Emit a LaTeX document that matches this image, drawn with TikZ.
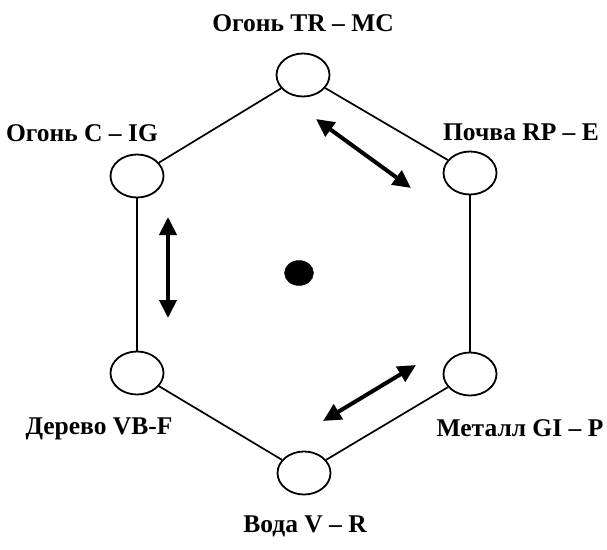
\documentclass[tikz,border=0pt]{standalone}
\usepackage{fontspec}
\setmainfont{Liberation Serif}
\usetikzlibrary{shapes.geometric,arrows.meta}
\tikzset{
  elem/.style={draw, ellipse, line width=1.8pt, minimum width=53pt, minimum height=43pt, inner sep=0pt},
  edge/.style={line width=1.7pt},
  lbl/.style={font=\bfseries\fontsize{25.5}{30}\selectfont, inner sep=0pt},
  dbl/.style={line width=4pt, {Triangle[length=18pt,width=17pt]}-{Triangle[length=18pt,width=17pt]}}
}
\begin{document}
\begin{tikzpicture}[x=1pt,y=-1pt]
\useasboundingbox (0,0) rectangle (607,549);
% elements
\node[elem] (top) at (303,75) {};
\node[elem] (lt) at (137,176) {};
\node[elem] (rt) at (470,173) {};
\node[elem] (lb) at (137,373) {};
\node[elem] (rb) at (470,374) {};
\node[elem] (bot) at (304,473) {};
% hexagon edges
\draw[edge] (top) -- (rt);
\draw[edge] (top) -- (lt);
\draw[edge] (lt.south) -- (lb.north);
\draw[edge] (rt.south) -- (rb.north);
\draw[edge] (lb) -- (bot);
\draw[edge] (rb) -- (bot);
% centre
\node[draw, fill=black, ellipse, minimum width=29pt, minimum height=25pt, inner sep=0pt] (c) at (299,273) {};
% arrows
\coordinate (a1s) at (316,119);
\coordinate (a1e) at (411,188);
\coordinate (a2s) at (168,217);
\coordinate (a2e) at (168,318);
\coordinate (a3s) at (323,421);
\coordinate (a3e) at (416,365);
\draw[dbl] (a1s) -- (a1e);
\draw[dbl] (a2s) -- (a2e);
\draw[dbl] (a3s) -- (a3e);
% labels
\node[lbl] (ltop) at (303,23) {Огонь TR – MC};
\node[lbl] (llt) at (82,133) {Огонь C – IG};
\node[lbl] (lrt) at (521,132) {Почва RP – E};
\node[lbl] (llb) at (99,429) {Дерево VB-F};
\node[lbl] (lrb) at (520,428) {Металл GI – P};
\node[lbl] (lbot) at (305,526) {Вода V – R};
\end{tikzpicture}
\end{document}
